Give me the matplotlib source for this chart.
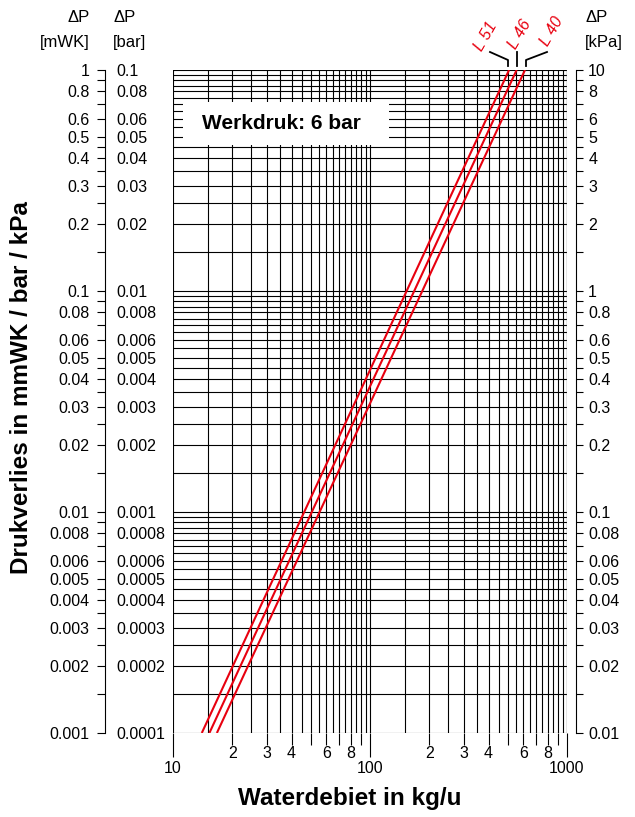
import matplotlib
matplotlib.use("Agg")
import matplotlib.pyplot as plt
from matplotlib.lines import Line2D
from matplotlib.patches import Rectangle
from matplotlib import font_manager
import numpy as np

# ---------------- data ----------------
curve_names = ["L 51", "L 46", "L 40"]
dp_range_mwk = [0.001, 1.0]                 # pressure drop range of each line [mWK]
flow_at_dp_min = [14.0, 15.3, 16.7]         # kg/u at 0.001 mWK
flow_at_dp_max = [508.0, 555.0, 612.0]      # kg/u at 1 mWK

mwk_ticks_major = [1, 0.8, 0.6, 0.5, 0.4, 0.3, 0.2]        # labelled (per decade)
mwk_ticks_all = [1, 0.9, 0.8, 0.7, 0.6, 0.5, 0.45, 0.4, 0.35, 0.3, 0.25, 0.2, 0.15]
decades_mwk = [1, 0.1, 0.01]
x_minor_labels = [2, 3, 4, 6, 8]
x_major_labels = [10, 100, 1000]
grid_mult = [1, 1.5, 2, 2.5, 3, 3.5, 4, 4.5, 5, 5.5, 6, 6.5, 7, 7.5, 8, 8.5, 9, 9.5]

W, H = 635, 817
fig = plt.figure(figsize=(W / 100, H / 100), dpi=100)

installed = {f.name for f in font_manager.fontManager.ttflist}
NARROW = [f for f in ["DejaVu Sans Condensed", "Liberation Sans Narrow", "Liberation Sans", "DejaVu Sans"]
          if f in installed][:2] or ["DejaVu Sans"]
NARROW_SIZE = 12 if NARROW[0] in ("DejaVu Sans Condensed", "Liberation Sans Narrow") else 11.5
BOLD = ["Liberation Sans", "DejaVu Sans"]
TS = NARROW_SIZE


def rect(x0, y0, x1, y1):
    return [x0 / W, 1 - y1 / H, (x1 - x0) / W, (y1 - y0) / H]


def fp(x, y):
    return (x / W, 1 - y / H)


PX0, PY0, PX1, PY1 = 173, 70, 567, 733
ax = fig.add_axes(rect(PX0, PY0, PX1, PY1))
ax.set_xscale("log")
ax.set_yscale("log")
ax.set_xlim(10, 1000)
ax.set_ylim(0.001, 1)

# grid
for dec in [10, 100]:
    for m in grid_mult:
        ax.axvline(dec * m, color="black", lw=0.8, zorder=1)
for dec in [0.001, 0.01, 0.1]:
    for m in grid_mult:
        ax.axhline(dec * m, color="black", lw=0.8, zorder=1)
ax.axhline(1, color="black", lw=0.8, zorder=1)
ax.axvline(1000, color="#777777", lw=1.0, zorder=1)
for s in ["left", "right", "top", "bottom"]:
    ax.spines[s].set_visible(False)

# curves
for name, q0, q1 in zip(curve_names, flow_at_dp_min, flow_at_dp_max):
    ax.plot([q0, q1], dp_range_mwk, color="#e8000f", lw=1.5, zorder=4,
            solid_capstyle="butt")


# white label box
def ax_frac(x, y):
    return ((x - PX0) / (PX1 - PX0), (PY1 - y) / (PY1 - PY0))


bx0, by0 = ax_frac(183, 145)
bx1, by1 = ax_frac(389, 102)
ax.add_patch(Rectangle((bx0, by0), bx1 - bx0, by1 - by0, transform=ax.transAxes,
                       facecolor="white", edgecolor="none", zorder=3))
ax.text((bx0 + bx1) / 2 - 0.012, (by0 + by1) / 2, "Werkdruk: 6 bar", transform=ax.transAxes,
        ha="center", va="center", fontsize=15, fontweight="bold",
        family=BOLD, zorder=5)

# bottom ticks
ax.xaxis.set_ticks_position("bottom")
ax.set_xticks(x_major_labels)
ax.set_xticklabels([str(v) for v in x_major_labels])
minor_pos = [d * m for d in [10, 100] for m in range(2, 10)]
ax.set_xticks(minor_pos, minor=True)
minor_lab = []
for p in minor_pos:
    m = int(round(p / (10 if p < 100 else 100)))
    minor_lab.append(str(m) if m in x_minor_labels else "")
ax.set_xticklabels(minor_lab, minor=True)
ax.tick_params(axis="x", which="major", length=17, width=0.8, pad=3, labelsize=TS)
ax.tick_params(axis="x", which="minor", length=8.5, width=0.8, pad=1, labelsize=TS)
for lab in ax.get_xticklabels(which="both"):
    lab.set_family(NARROW)
ax.set_yticks([])
ax.set_yticks([], minor=True)

fig.text(*fp(350, 798), "Waterdebiet in kg/u", ha="center", va="center",
         fontsize=17.5, fontweight="bold", family=BOLD)

# ------------- side axes -------------
all_ticks = sorted(set([round(d * m, 8) for d in decades_mwk for m in mwk_ticks_all] + [0.001]))
lab_ticks = sorted(set([round(d * m, 8) for d in decades_mwk for m in mwk_ticks_major] + [0.001]))


def fmt(v):
    return f"{v:g}"


def make_side(xpix, side):
    a = fig.add_axes(rect(xpix, PY0, xpix + 0.01, PY1))
    a.set_yscale("log")
    a.set_ylim(0.001, 1)
    a.set_xticks([])
    a.patch.set_visible(False)
    for s in ["left", "right", "top", "bottom"]:
        a.spines[s].set_visible(False)
    a.spines[side].set_visible(True)
    a.spines[side].set_linewidth(0.8)
    return a


# left mWK / bar
axL = make_side(105, "left")
axL.yaxis.set_ticks_position("left")
axL.set_yticks(all_ticks)
axL.set_yticklabels([fmt(t) if t in lab_ticks else "" for t in all_ticks])
axL.set_yticks([], minor=True)
axL.tick_params(axis="y", length=6, width=0.8, pad=5, labelsize=TS)
for lab in axL.get_yticklabels():
    lab.set_family(NARROW)

axB = axL.twinx()
axB.set_yscale("log")
axB.set_ylim(0.0001, 0.1)
for s in ["left", "right", "top", "bottom"]:
    axB.spines[s].set_visible(False)
bar_ticks = [t / 10 for t in lab_ticks]
axB.set_yticks(bar_ticks)
axB.set_yticklabels([fmt(t) for t in bar_ticks])
axB.set_yticks([], minor=True)
axB.tick_params(axis="y", length=0, pad=8.5, labelsize=TS)
for lab in axB.get_yticklabels():
    lab.set_family(NARROW)

# right kPa
axR = make_side(582 - 0.01 * W, "right")
axR.yaxis.set_ticks_position("right")
axR.set_yticks(all_ticks)
axR.set_yticklabels([fmt(t * 10) if t in lab_ticks else "" for t in all_ticks])
axR.set_yticks([], minor=True)
axR.tick_params(axis="y", length=5, width=0.8, pad=4, labelsize=TS)
for lab in axR.get_yticklabels():
    lab.set_family(NARROW)

# headers
HS = TS + 0.5
fig.text(*fp(90, 17), "ΔP", ha="right", va="center", fontsize=HS, family=NARROW)
fig.text(*fp(90, 42), "[mWK]", ha="right", va="center", fontsize=HS, family=NARROW)
fig.text(*fp(113, 17), "ΔP", ha="left", va="center", fontsize=HS, family=NARROW)
fig.text(*fp(113, 42), "[bar]", ha="left", va="center", fontsize=HS, family=NARROW)
fig.text(*fp(585, 17), "ΔP", ha="left", va="center", fontsize=HS, family=NARROW)
fig.text(*fp(585, 42), "[kPa]", ha="left", va="center", fontsize=HS, family=NARROW)

# y label
fig.text(*fp(22, 388), "Drukverlies in mmWK / bar / kPa", rotation=90, ha="center",
         va="center", fontsize=17.5, fontweight="bold", family=BOLD)

# curve labels
label_pos = [(486, 36), (520, 34), (552, 31)]
for name, (lx, ly) in zip(curve_names, label_pos):
    fig.text(*fp(lx, ly), name, rotation=60, ha="center", va="center",
             fontsize=TS, color="#e8000f", family=NARROW, style="italic")

leaders = [[(490, 52), (508, 60), (508, 66)],
           [(517, 52), (517, 66)],
           [(547, 52), (526, 60), (526, 66)]]
for pts in leaders:
    xs = [fp(x, y)[0] for x, y in pts]
    ys = [fp(x, y)[1] for x, y in pts]
    fig.add_artist(Line2D(xs, ys, transform=fig.transFigure, color="black", lw=1.3))

fig.savefig("out.png", dpi=100)
